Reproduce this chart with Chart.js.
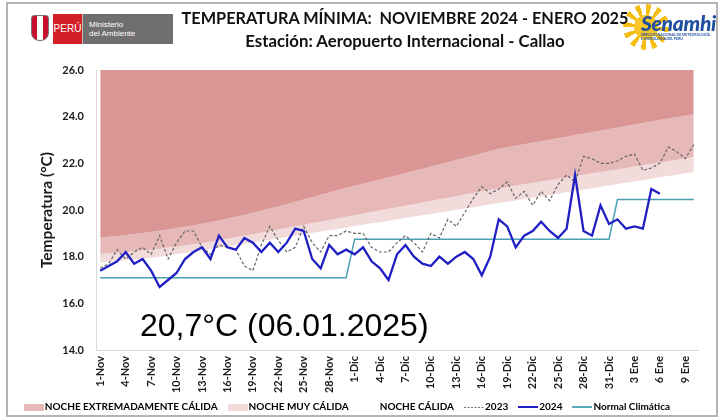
<!DOCTYPE html>
<html>
<head>
<meta charset="utf-8">
<script src="https://cdn.jsdelivr.net/npm/chart.js@4.4.1/dist/chart.umd.min.js"></script>
<style>
  html, body { margin: 0; padding: 0; background: #fff; }
  #wrap { position: relative; width: 720px; height: 419px; overflow: hidden; font-family: Lato, "Open Sans", sans-serif; }
  #out { position: absolute; left: 0; top: 0; }
  #frame { position: absolute; left: 6px; top: 2px; width: 708px; height: 411px; border: 2px solid #b4b4b4; pointer-events: none; }
  .t1 { position: absolute; left: 0; width: 810px; top: 8px; text-align: center; font-weight: 700; font-size: 16.3px; white-space: pre; color: #111; }
  .t2 { position: absolute; left: 0; width: 810px; top: 30px; text-align: center; font-weight: 700; font-size: 16.8px; color: #111; }
  .shield { position: absolute; left: 31px; top: 15px; width: 16px; height: 24px; border-radius: 3px 3px 8px 8px; background: linear-gradient(90deg, #c8102e 0 33%, #fff 33% 66%, #c8102e 66%); border: 1px solid #777; }
  .peru { position: absolute; left: 53px; top: 14px; width: 29px; height: 30px; background: #d41f26; color: #fff; font-size: 10px; line-height: 30px; text-align: center; font-family: "Liberation Sans", sans-serif; }
  .mina { position: absolute; left: 82px; top: 14px; width: 91px; height: 30px; background: #6f6f6f; color: #fff; font-size: 8px; line-height: 9px; font-family: "Liberation Sans", sans-serif; padding: 6px 0 0 6px; box-sizing: border-box; border-left: 1px solid #bbb; }
  .sun { position: absolute; left: 623px; top: 4px; width: 46px; height: 46px; border-radius: 50%;
         background: repeating-conic-gradient(#f6be12 0deg 14deg, transparent 14deg 30deg); }
  .sun i { position: absolute; left: 11px; top: 11px; width: 24px; height: 24px; border-radius: 50%; background: #f8c52a; }
  .sen { position: absolute; left: 641px; top: 10px; font-size: 21px; font-weight: 900; font-style: italic; color: #1f4f9e; font-family: Lato, sans-serif; letter-spacing: -0.3px; }
  .sen small { display: block; font-size: 3.5px; line-height: 4px; font-style: normal; font-weight: 700; letter-spacing: 0; margin-top: -2px; }
</style>
</head>
<body>
<div id="wrap">
  <canvas id="out" width="720" height="419"></canvas>
  <div class="shield"></div>
  <div class="peru">PERÚ</div>
  <div class="mina">Ministerio<br>del Ambiente</div>
  <div class="sun"><i></i></div>
  <div class="sen">Senamhi<small>SERVICIO NACIONAL DE METEOROLOGÍA<br>E HIDROLOGÍA DEL PERÚ</small></div>
  <div class="t1">TEMPERATURA MÍNIMA:  NOVIEMBRE 2024 - ENERO 2025</div>
  <div class="t2">Estación: Aeropuerto Internacional - Callao</div>
  <div id="frame"></div>
</div>
<script>
const days = [
	"1-Nov", "2-Nov", "3-Nov", "4-Nov", "5-Nov", "6-Nov", "7-Nov", "8-Nov", "9-Nov", "10-Nov",
	"11-Nov", "12-Nov", "13-Nov", "14-Nov", "15-Nov", "16-Nov", "17-Nov", "18-Nov", "19-Nov", "20-Nov",
	"21-Nov", "22-Nov", "23-Nov", "24-Nov", "25-Nov", "26-Nov", "27-Nov", "28-Nov", "29-Nov", "30-Nov",
	"1-Dic", "2-Dic", "3-Dic", "4-Dic", "5-Dic", "6-Dic", "7-Dic", "8-Dic", "9-Dic", "10-Dic",
	"11-Dic", "12-Dic", "13-Dic", "14-Dic", "15-Dic", "16-Dic", "17-Dic", "18-Dic", "19-Dic", "20-Dic",
	"21-Dic", "22-Dic", "23-Dic", "24-Dic", "25-Dic", "26-Dic", "27-Dic", "28-Dic", "29-Dic", "30-Dic", "31-Dic",
	"1 Ene", "2 Ene", "3 Ene", "4 Ene", "5 Ene", "6 Ene", "7 Ene", "8 Ene", "9 Ene", "10 Ene"
];

// umbrales (limite inferior de cada franja)
const extremeLimit = [
	18.81, 18.85, 18.89, 18.93, 18.97, 19.01, 19.06, 19.11, 19.16, 19.22,
	19.28, 19.34, 19.41, 19.48, 19.55, 19.63, 19.71, 19.79, 19.88, 19.97,
	20.06, 20.15, 20.25, 20.35, 20.45, 20.55, 20.65, 20.75, 20.85, 20.94,
	21.03, 21.12, 21.21, 21.30, 21.39, 21.48, 21.57, 21.67, 21.76, 21.86,
	21.95, 22.05, 22.14, 22.24, 22.33, 22.43, 22.52, 22.62, 22.69, 22.75,
	22.82, 22.88, 22.95, 23.01, 23.08, 23.14, 23.21, 23.27, 23.34, 23.40, 23.47,
	23.53, 23.60, 23.66, 23.73, 23.79, 23.86, 23.92, 23.98, 24.04, 24.10
];
const veryWarmLimit = [
	18.11, 18.14, 18.17, 18.20, 18.23, 18.26, 18.30, 18.34, 18.39, 18.43,
	18.48, 18.53, 18.58, 18.64, 18.70, 18.77, 18.83, 18.90, 18.96, 19.03,
	19.10, 19.16, 19.23, 19.30, 19.37, 19.44, 19.50, 19.57, 19.64, 19.71,
	19.78, 19.84, 19.91, 19.98, 20.05, 20.12, 20.18, 20.25, 20.32, 20.39,
	20.46, 20.52, 20.59, 20.66, 20.73, 20.80, 20.86, 20.93, 20.99, 21.05,
	21.10, 21.16, 21.22, 21.28, 21.34, 21.39, 21.45, 21.51, 21.57, 21.63, 21.68,
	21.74, 21.80, 21.86, 21.92, 21.97, 22.03, 22.09, 22.15, 22.21, 22.27
];
const warmLimit = [
	17.76, 17.79, 17.82, 17.85, 17.88, 17.91, 17.94, 18.00, 18.05, 18.11,
	18.16, 18.22, 18.27, 18.33, 18.38, 18.44, 18.50, 18.56, 18.61, 18.67,
	18.73, 18.79, 18.85, 18.90, 18.96, 19.02, 19.08, 19.14, 19.19, 19.25,
	19.31, 19.37, 19.43, 19.48, 19.54, 19.60, 19.66, 19.72, 19.77, 19.83,
	19.89, 19.95, 20.01, 20.06, 20.12, 20.18, 20.24, 20.30, 20.35, 20.41,
	20.47, 20.53, 20.59, 20.64, 20.70, 20.76, 20.82, 20.88, 20.93, 20.99, 21.05,
	21.11, 21.17, 21.22, 21.28, 21.34, 21.40, 21.46, 21.51, 21.57, 21.63
];

const tmin2023 = [
	17.5, 17.7, 18.3, 17.9, 18.2, 18.4, 18.1, 18.9, 17.9, 18.6,
	19.1, 19.1, 18.4, 18.1, 18.5, 18.4, 18.3, 17.6, 17.4, 18.5,
	19.3, 18.7, 18.2, 18.4, 19.3, 18.6, 18.2, 18.9, 18.9, 19.1,
	19.0, 19.0, 18.4, 18.2, 18.2, 18.6, 18.9, 18.6, 18.2, 19.0,
	18.8, 19.6, 19.3, 19.9, 20.5, 21.0, 20.7, 20.9, 21.2, 20.5,
	20.8, 20.2, 20.8, 20.4, 21.1, 21.5, 21.2, 22.3, 22.2, 22.0, 22.0,
	22.1, 22.3, 22.4, 21.7, 21.8, 22.0, 22.7, 22.5, 22.2, 22.8
];
const tmin2024 = [
	17.4, 17.6, 17.8, 18.2, 17.7, 17.9, 17.4, 16.7, 17.0, 17.3,
	17.9, 18.2, 18.4, 17.9, 18.9, 18.4, 18.3, 18.8, 18.6, 18.2,
	18.6, 18.2, 18.6, 19.2, 19.1, 17.9, 17.5, 18.5, 18.1, 18.3,
	18.1, 18.4, 17.8, 17.5, 17.0, 18.1, 18.5, 18.0, 17.7, 17.6,
	18.0, 17.7, 18.0, 18.2, 17.9, 17.2, 18.0, 19.6, 19.3, 18.4,
	18.9, 19.1, 19.5, 19.1, 18.8, 19.2, 21.5, 19.1, 18.9, 20.2, 19.4,
	19.6, 19.2, 19.3, 19.2, 20.9, 20.7, null, null, null, null
];
const normal = [
	17.1, 17.1, 17.1, 17.1, 17.1, 17.1, 17.1, 17.1, 17.1, 17.1,
	17.1, 17.1, 17.1, 17.1, 17.1, 17.1, 17.1, 17.1, 17.1, 17.1,
	17.1, 17.1, 17.1, 17.1, 17.1, 17.1, 17.1, 17.1, 17.1, 17.1,
	18.75, 18.75, 18.75, 18.75, 18.75, 18.75, 18.75, 18.75, 18.75, 18.75,
	18.75, 18.75, 18.75, 18.75, 18.75, 18.75, 18.75, 18.75, 18.75, 18.75,
	18.75, 18.75, 18.75, 18.75, 18.75, 18.75, 18.75, 18.75, 18.75, 18.75, 18.75,
	20.45, 20.45, 20.45, 20.45, 20.45, 20.45, 20.45, 20.45, 20.45, 20.45
];

const yTicks = [14, 16, 18, 20, 22, 24, 26];
const lastValueText = "20,7°C (06.01.2025)";

Chart.defaults.font.family = "Lato, 'Open Sans', sans-serif";
Chart.defaults.color = "#1a1a1a";

function swatch(color, w, h, dash) {
	const c = document.createElement("canvas");
	c.width = w;
	c.height = h;
	const g = c.getContext("2d");
	if (dash) {
		g.strokeStyle = color;
		g.lineWidth = h;
		g.setLineDash(dash);
		g.beginPath();
		g.moveTo(0, h / 2);
		g.lineTo(w, h / 2);
		g.stroke();
	} else {
		g.fillStyle = color;
		g.fillRect(0, 0, w, h);
	}
	return c;
}

const legendItems = [
	{ text: "NOCHE EXTREMADAMENTE CÁLIDA", img: swatch("#e6b9b8", 20, 7) },
	{ text: "NOCHE MUY CÁLIDA", img: swatch("#f2dcdb", 20, 7) },
	{ text: "NOCHE CÁLIDA", img: swatch("#ffffff", 20, 7) },
	{ text: "2023", img: swatch("#707070", 20, 1.5, [2, 1.5]) },
	{ text: "2024", img: swatch("#2020c8", 20, 2, [20, 0]) },
	{ text: "Normal Climática", img: swatch("#5aaabb", 20, 2, [20, 0]) }
];

const noteText = {
	id: "noteText",
	afterDatasetsDraw(chart) {
		const ctx = chart.ctx;
		ctx.save();
		ctx.font = "32px 'Liberation Sans', Arial, sans-serif";
		ctx.fillStyle = "#000";
		ctx.textBaseline = "alphabetic";
		ctx.fillText(lastValueText, 140, 336);
		ctx.restore();
	}
};

// la leyenda ocupa poco alto en el layout; aqui se baja a su sitio
const legendPlace = {
	id: "legendPlace",
	afterLayout(chart) {
		const lg = chart.legend;
		lg.top = 388;
		lg.bottom = 419;
	}
};

const canvasCtx = document.getElementById("out").getContext("2d");
const chartConfig = {
	type: "line",
	data: {
		labels: days,
		datasets: [
			{
				label: "NOCHE EXTREMADAMENTE CÁLIDA",
				data: extremeLimit,
				backgroundColor: "#d99694",
				borderWidth: 0,
				fill: "end",
				order: 3
			}, {
				label: "NOCHE MUY CÁLIDA",
				data: veryWarmLimit,
				backgroundColor: "#e6b9b8",
				borderWidth: 0,
				fill: "-1",
				order: 3
			}, {
				label: "NOCHE CÁLIDA",
				data: warmLimit,
				backgroundColor: "#f2dcdb",
				borderWidth: 0,
				fill: "-1",
				order: 3
			}, {
				label: "2023",
				data: tmin2023,
				borderColor: "#666666",
				borderWidth: 1.2,
				borderDash: [3, 2],
				fill: false,
				order: 1
			}, {
				label: "2024",
				data: tmin2024,
				borderColor: "#1f1fc4",
				borderWidth: 2.3,
				fill: false,
				order: 0
			}, {
				label: "Normal Climática",
				data: normal,
				borderColor: "#4aa0b4",
				borderWidth: 1.5,
				fill: false,
				order: 2
			}
		]
	},
	options: {
		responsive: false,
		animation: false,
		layout: { padding: { left: 0, right: 22, top: 70, bottom: 0 } },
		elements: {
			point: { radius: 0, hoverRadius: 0 },
			line: { tension: 0 }
		},
		plugins: {
			title: { display: false },
			tooltip: { enabled: false },
			legend: {
				position: "bottom",
				maxHeight: 19,
				labels: {
					usePointStyle: true,
					pointStyleWidth: 12,
					padding: 14,
					color: "#1a1a1a",
					font: { size: 10, weight: "bold" },
					generateLabels: () => legendItems.map((it, i) => ({
						text: it.text,
						pointStyle: it.img,
						fillStyle: "#fff",
						strokeStyle: "#fff",
						lineWidth: 0,
						hidden: false,
						datasetIndex: i
					}))
				}
			}
		},
		scales: {
			x: {
				offset: true,
				grid: { display: false, drawTicks: false },
				border: { display: true, color: "#d9d9d9", width: 1 },
				afterFit: (s) => { s.height = 50; },
				ticks: {
					autoSkip: false,
					maxRotation: 90,
					minRotation: 90,
					padding: 6,
					color: "#1a1a1a",
					font: { size: 11, weight: "bold" },
					callback: (v, i) => (i % 3 === 0 ? days[i] : "")
				}
			},
			y: {
				min: yTicks[0],
				max: yTicks[yTicks.length - 1],
				afterFit: (s) => { s.width = 96; },
				afterBuildTicks: (s) => { s.ticks = yTicks.map(v => ({ value: v })); },
				grid: { display: false, drawTicks: false },
				border: { display: true, color: "#d9d9d9", width: 1 },
				title: {
					display: true,
					text: "Temperatura (°C)",
					color: "#1a1a1a",
					font: { size: 15.5, weight: "bold" },
					padding: { top: 38, bottom: 0 }
				},
				ticks: {
					padding: 12,
					color: "#1a1a1a",
					font: { size: 11, weight: "bold" },
					callback: (v) => Number(v).toFixed(1)
				}
			}
		}
	},
	plugins: [noteText, legendPlace]
};

window.chart = new Chart(canvasCtx, chartConfig);
</script>
</body>
</html>
